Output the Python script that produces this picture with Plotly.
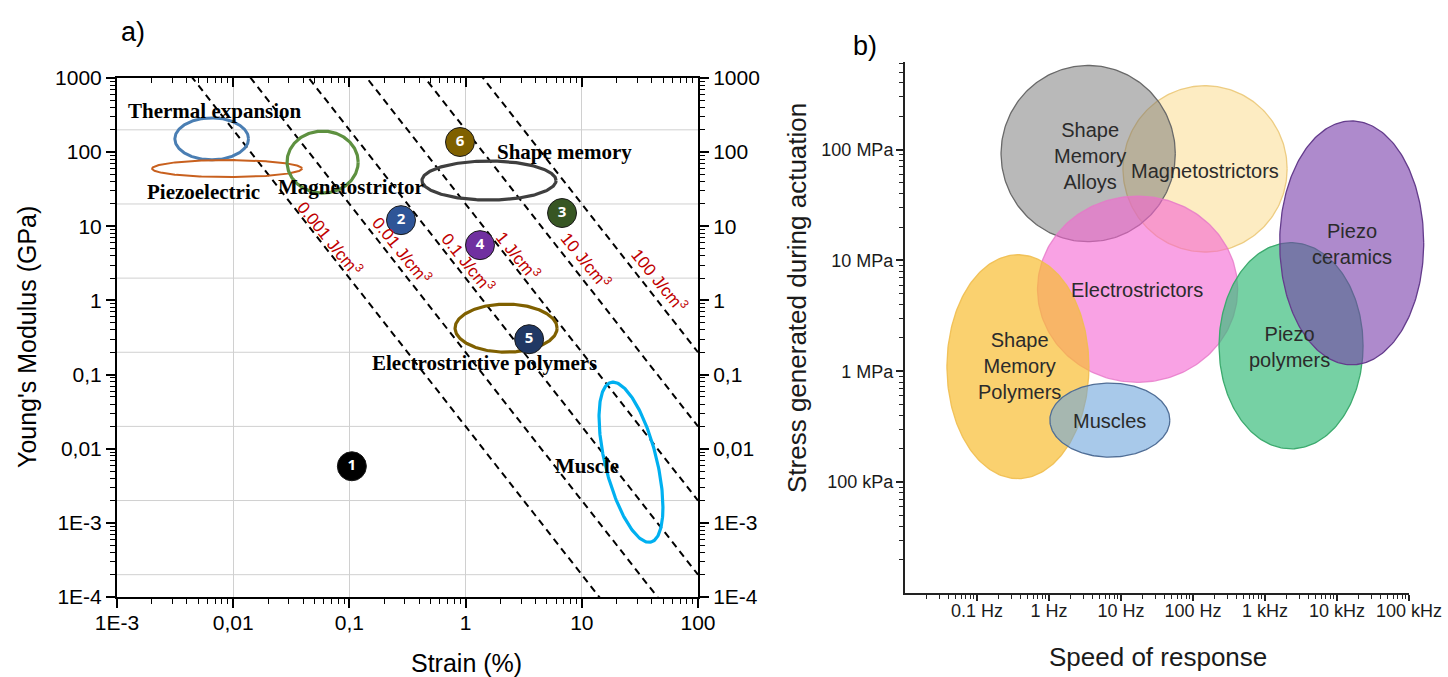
import numpy as np
import plotly.graph_objects as go

# ================= Panel a data =================
a_xtick_vals = [1e-3, 1e-2, 1e-1, 1, 10, 100]
a_xtick_text = ["1E-3", "0,01", "0,1", "1", "10", "100"]
a_ytick_vals = [1e-4, 1e-3, 1e-2, 1e-1, 1, 10, 100, 1000]
a_ytick_text = ["1E-4", "1E-3", "0,01", "0,1", "1", "10", "100", "1000"]
a_hgrid_vals = [2e-4, 2e-3, 2e-2, 2e-1, 2, 20, 200]

# energy density iso-lines (J/cm3)
energy_density = [0.001, 0.01, 0.1, 1, 10, 100]
energy_text = ["0.001 J/cm<sup>3</sup>", "0.01 J/cm<sup>3</sup>", "0.1 J/cm<sup>3</sup>",
               "1 J/cm<sup>3</sup>", "10 J/cm<sup>3</sup>", "100 J/cm<sup>3</sup>"]
energy_label_x = [0.068, 0.284, 1.05, 2.83, 10.9, 47]
energy_label_y = [6.9, 4.8, 3.3, 4.1, 3.5, 1.9]
strain_span = [1e-3, 1e2]

# actuator regions (ellipses in log space)
region_names = ["Thermal expansion", "Piezoelectric", "Magnetostrictor", "Shape memory",
                "Electrostrictive polymers", "Muscle"]
region_cx = [0.00653, 0.00885, 0.0588, 1.59, 2.23, 26.5]       # strain %
region_cy = [151, 60, 73.5, 41.4, 0.423, 0.00657]              # GPa
region_rx = [0.317, 0.645, 0.306, 0.577, 0.439, 0.275]         # decades
region_ry = [0.283, 0.115, 0.418, 0.263, 0.324, 0.893]         # decades
region_shear = [0, 0, 0, 0, 0, -2.21]
region_colors = ["#4a7eb3", "#c8601e", "#5e9140", "#3f3f3f", "#7f6000", "#00b0f0"]
region_widths = [3, 2, 3.2, 3.2, 3.2, 3.2]
region_label_x = [0.0070, 0.0056, 0.103, 7.03, 1.44, 11.1]
region_label_y = [359, 29, 33.8, 100, 0.143, 0.0058]

# numbered points
num_ids = ["1", "2", "3", "4", "5", "6"]
num_x = [0.105, 0.278, 6.76, 1.33, 3.52, 0.895]
num_y = [0.0058, 12.1, 15.1, 5.57, 0.30, 137]
num_colors = ["#000000", "#2f5597", "#375623", "#7030a0", "#203864", "#7f6000"]

# ================= Panel b data =================
b_xtick_vals = [0.1, 1, 10, 100, 1e3, 1e4, 1e5]
b_xtick_text = ["0.1 Hz", "1 Hz", "10 Hz", "100 Hz", "1 kHz", "10 kHz", "100 kHz"]
b_ytick_vals = [1e5, 1e6, 1e7, 1e8]
b_ytick_text = ["100 kPa", "1 MPa", "10 MPa", "100 MPa"]

act_names = ["Magnetostrictors", "Shape<br>Memory<br>Alloys", "Electrostrictors",
             "Shape<br>Memory<br>Polymers", "Muscles", "Piezo<br>polymers", "Piezo<br>ceramics"]
act_cx = [147, 3.5, 17, 0.37, 7, 2300, 16000]                 # Hz
act_cy = [67e6, 92e6, 5.5e6, 1.1e6, 3.63e5, 1.7e6, 14.4e6]    # Pa
act_rx = [1.14, 1.21, 1.39, 0.986, 0.833, 1.0, 1.0]           # decades
act_ry = [0.75, 0.795, 0.84, 1.01, 0.334, 0.93, 1.10]         # decades
act_fill = ["rgba(250,210,110,0.42)", "rgba(115,115,115,0.5)", "rgba(245,100,210,0.6)",
            "rgba(248,190,50,0.7)", "rgba(110,165,220,0.6)", "rgba(60,190,125,0.7)",
            "rgba(120,60,170,0.6)"]
act_line = ["rgba(235,200,120,0.9)", "rgb(105,105,105)", "rgba(230,120,200,0.8)",
            "rgba(240,190,80,0.9)", "rgb(80,110,150)", "rgb(60,170,110)", "rgb(100,60,140)"]
act_label_x = [147, 3.7, 16.7, 0.395, 7.0, 2220, 16100]
act_label_y = [64e6, 88e6, 5.4e6, 1.12e6, 3.56e5, 1.66e6, 14e6]

W_PX, H_PX = 1448, 677
SANS = "Liberation Sans, Arial, sans-serif"
SERIF = "Liberation Serif, Times New Roman, serif"


def ellipse(cx, cy, rx, ry, shear=0.0, n=240):
    t = np.linspace(0, 2 * np.pi, n)
    lx = np.log10(cx) + rx * np.cos(t)
    ly = np.log10(cy) + ry * np.sin(t) + shear * rx * np.cos(t)
    return 10 ** lx, 10 ** ly


def minor_vals(lo, hi):
    return [m * 10.0 ** e for e in range(lo, hi) for m in range(2, 10)]


fig = go.Figure()

# ---- panel a : horizontal grid lines
for g in a_hgrid_vals:
    fig.add_trace(go.Scatter(x=[a_xtick_vals[0], a_xtick_vals[-1]], y=[g, g], mode="lines",
                             line=dict(color="#d0d0d0", width=1), hoverinfo="skip",
                             xaxis="x", yaxis="y"))

# ---- panel a : energy density lines  (W = 1/2 E eps^2 -> E[GPa] = 20 W / eps[%]^2)
for W in energy_density:
    eps = np.array(strain_span)
    E = 20.0 * W / eps ** 2
    fig.add_trace(go.Scatter(x=eps, y=E, mode="lines",
                             line=dict(color="black", width=2, dash="7px,5px"),
                             hoverinfo="skip", xaxis="x", yaxis="y"))

# ---- panel a : regions
for i in range(len(region_names)):
    ex, ey = ellipse(region_cx[i], region_cy[i], region_rx[i], region_ry[i], region_shear[i])
    fig.add_trace(go.Scatter(x=ex, y=ey, mode="lines",
                             line=dict(color=region_colors[i], width=region_widths[i]),
                             hoverinfo="skip", xaxis="x", yaxis="y"))

# ---- panel a : numbered points
fig.add_trace(go.Scatter(x=num_x, y=num_y, mode="markers+text", text=num_ids,
                         textposition="middle center",
                         textfont=dict(color="white", size=15, family="Open Sans, Arial", weight="bold"),
                         marker=dict(size=29, color=num_colors, line=dict(color="#1a1a1a", width=1)),
                         hoverinfo="skip", xaxis="x", yaxis="y"))

# dummy trace on mirrored axes
fig.add_trace(go.Scatter(x=[1], y=[1], mode="markers", marker=dict(opacity=0),
                         hoverinfo="skip", xaxis="x2", yaxis="y2"))

# ---- panel b : actuator ellipses (drawn on an invisible wider twin of the b axes,
#      same scale, so the rightmost ellipse is not clipped at the axis end)
for i in range(len(act_names)):
    ex, ey = ellipse(act_cx[i], act_cy[i], act_rx[i], act_ry[i])
    fig.add_trace(go.Scatter(x=ex, y=ey, mode="lines", fill="toself",
                             fillcolor=act_fill[i], line=dict(color=act_line[i], width=1.3),
                             hoverinfo="skip", xaxis="x4", yaxis="y4"))
# dummy trace to draw the visible b axes
fig.add_trace(go.Scatter(x=[1], y=[1e6], mode="markers", marker=dict(opacity=0),
                         hoverinfo="skip", xaxis="x3", yaxis="y3"))

annotations = []
for i in range(len(energy_density)):
    annotations.append(dict(x=np.log10(energy_label_x[i]), y=np.log10(energy_label_y[i]),
                            xref="x", yref="y", text=energy_text[i], showarrow=False,
                            xanchor="center", yanchor="middle",
                            textangle=51, font=dict(color="#c00000", size=17, family=SANS)))
for i in range(len(region_names)):
    annotations.append(dict(x=np.log10(region_label_x[i]), y=np.log10(region_label_y[i]),
                            xref="x", yref="y", text="<b>" + region_names[i] + "</b>",
                            xanchor="center", yanchor="middle",
                            showarrow=False, font=dict(color="black", size=21, family=SERIF)))
for i in range(len(act_names)):
    annotations.append(dict(x=np.log10(act_label_x[i]), y=np.log10(act_label_y[i]),
                            xref="x3", yref="y3", text=act_names[i], showarrow=False,
                            xanchor="center", yanchor="middle",
                            font=dict(color="#2b2b2b", size=20, family=SANS)))

# titles / panel letters
def paper_text(px, py, text, size, angle=0, color="black"):
    return dict(x=px / W_PX, y=1 - py / H_PX, xref="paper", yref="paper", text=text,
                textangle=angle, showarrow=False, xanchor="center", yanchor="middle",
                font=dict(size=size, family=SANS, color=color))


annotations += [
    paper_text(27, 337, "Young's Modulus (GPa)", 25, -90),
    paper_text(466, 663, "Strain (%)", 25),
    paper_text(797, 298, "Stress generated during actuation", 26, -90, "#1a1a1a"),
    paper_text(1158, 657, "Speed of response", 26, 0, "#1a1a1a"),
    paper_text(133, 32, "a)", 27),
    paper_text(865, 46, "b)", 27),
]

a_xdom = [117 / W_PX, 698 / W_PX]
a_ydom = [1 - 597 / H_PX, 1 - 78 / H_PX]
b_xdom = [905 / W_PX, 1409 / W_PX]
b_ydom = [1 - 593 / H_PX, 1 - 62 / H_PX]
b_xrange = [-2, 5]
b_yrange = [4, 8.79]
# wider invisible twin with identical px/decade
b_px_per_dec = (1409 - 905) / (b_xrange[1] - b_xrange[0])
b4_xdom = [905 / W_PX, 1.0]
b4_xrange = [b_xrange[0], b_xrange[0] + (W_PX - 905) / b_px_per_dec]

tickfont_a = dict(size=21, family=SANS, color="black")
tickfont_b = dict(size=18, family=SANS, color="#1a1a1a")

common_a_x = dict(type="log", range=[-3, 2], tickmode="array", tickvals=a_xtick_vals,
                  ticktext=a_xtick_text, showline=True, linecolor="black", linewidth=2,
                  tickcolor="black", tickwidth=1.5, ticklen=9, zeroline=False, automargin=False)
common_a_y = dict(type="log", range=[-4, 3], tickmode="array", tickvals=a_ytick_vals,
                  ticktext=a_ytick_text, showline=True, linecolor="black", linewidth=2,
                  tickcolor="black", tickwidth=1.5, ticklen=9, zeroline=False, showgrid=False,
                  automargin=False)


def minor_a(lo, hi, direction):
    return dict(tickmode="array", tickvals=minor_vals(lo, hi), ticks=direction, ticklen=5,
                tickwidth=1.2, tickcolor="black", showgrid=False)


fig.update_layout(
    template="none",
    width=W_PX, height=H_PX, margin=dict(l=0, r=0, t=0, b=0, pad=0), autosize=False,
    paper_bgcolor="white", plot_bgcolor="rgba(0,0,0,0)", showlegend=False,
    xaxis=dict(domain=a_xdom, anchor="y", side="bottom", ticks="outside", showgrid=True,
               gridcolor="#d0d0d0", gridwidth=1, tickfont=tickfont_a, ticklabelstandoff=-3,
               minor=minor_a(-3, 2, "outside"), **common_a_x),
    xaxis2=dict(domain=a_xdom, anchor="y2", overlaying="x", side="top", ticks="inside",
                showticklabels=False, showgrid=False, minor=minor_a(-3, 2, "inside"), **common_a_x),
    yaxis=dict(domain=a_ydom, anchor="x", side="left", ticks="outside", tickfont=tickfont_a,
               minor=minor_a(-4, 3, "outside"), **common_a_y),
    yaxis2=dict(domain=a_ydom, anchor="x2", overlaying="y", side="right", ticks="outside",
                tickfont=tickfont_a, minor=minor_a(-4, 3, "outside"), **common_a_y),
    xaxis3=dict(domain=b_xdom, anchor="y3", type="log", range=b_xrange, tickmode="array",
                tickvals=b_xtick_vals, ticktext=b_xtick_text, ticks="outside", ticklen=6,
                tickwidth=1.5, tickcolor="#222", showline=True, linecolor="#222", linewidth=2,
                showgrid=False, zeroline=False, tickfont=tickfont_b, automargin=False,
                ticklabelstandoff=-6,
                minor=dict(tickmode="array", tickvals=minor_vals(-2, 5), ticks="outside",
                           ticklen=4, tickwidth=1, tickcolor="#222", showgrid=False)),
    yaxis3=dict(domain=b_ydom, anchor="x3", type="log", range=b_yrange, tickmode="array",
                tickvals=b_ytick_vals, ticktext=b_ytick_text, ticks="outside", ticklen=7,
                tickwidth=1.5, tickcolor="#222", showline=True, linecolor="#222", linewidth=2,
                showgrid=False, zeroline=False, tickfont=tickfont_b, automargin=False,
                ticklabelstandoff=-1,
                minor=dict(tickmode="array", tickvals=minor_vals(4, 9), ticks="outside",
                           ticklen=4, tickwidth=1, tickcolor="#222", showgrid=False)),
    xaxis4=dict(domain=b4_xdom, anchor="y4", type="log", range=b4_xrange, visible=False,
                automargin=False),
    yaxis4=dict(domain=b_ydom, anchor="x4", type="log", range=b_yrange, visible=False,
                automargin=False),
    annotations=annotations,
)

fig.write_html("out.html")
